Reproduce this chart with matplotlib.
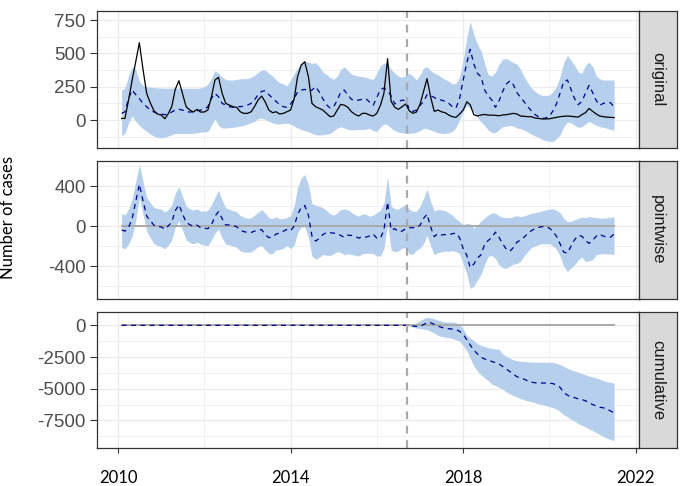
import matplotlib
matplotlib.use("Agg")
import matplotlib.pyplot as plt
import matplotlib.dates as mdates
from matplotlib.ticker import FixedLocator
import numpy as np
import pandas as pd

plt.rcParams["axes.unicode_minus"] = False

# monthly series, Feb 2010 .. Jul 2021 (one row per calendar year)
dates = pd.date_range("2010-02-01", periods=138, freq="MS")
intervention = pd.Timestamp("2016-09-13")

observed = np.array([
    12, 12, 150, 300, 440, 580, 380, 200, 130, 70, 45,
    38, 10, 45, 100, 230, 295, 200, 100, 75, 60, 80, 60,
    60, 75, 170, 300, 320, 200, 125, 112, 100, 95, 62, 50,
    50, 62, 100, 150, 180, 135, 75, 55, 62, 45, 50, 62,
    75, 162, 325, 412, 437, 325, 125, 100, 87, 75, 50, 25,
    30, 75, 117, 112, 95, 62, 42, 30, 50, 50, 37, 30,
    50, 112, 200, 460, 140, 95, 80, 100, 120, 70, 50, 60,
    120, 220, 310, 170, 65, 75, 62, 55, 37, 25, 20, 45,
    75, 137, 115, 40, 30, 38, 42, 37, 37, 35, 32, 38,
    40, 45, 50, 45, 30, 28, 25, 25, 15, 12, 8, 8,
    10, 15, 20, 25, 28, 30, 28, 25, 22, 40, 55, 87,
    65, 45, 30, 25, 22, 20, 18,
], dtype=float)

predicted = np.array([
    50, 62, 162, 225, 190, 160, 125, 100, 75, 60, 50,
    45, 40, 45, 60, 75, 80, 75, 62, 60, 62, 70, 75,
    80, 100, 162, 200, 175, 125, 112, 100, 95, 100, 100, 105,
    112, 125, 150, 190, 215, 220, 190, 165, 140, 115, 100, 95,
    120, 160, 210, 225, 230, 215, 225, 250, 210, 160, 115, 90,
    100, 150, 210, 225, 185, 155, 145, 150, 155, 160, 135, 110,
    170, 230, 240, 220, 180, 120, 135, 150, 145, 85, 65, 75,
    110, 140, 190, 180, 170, 150, 150, 140, 125, 100, 90, 160,
    300, 430, 530, 420, 350, 325, 225, 180, 150, 95, 145, 215,
    270, 295, 265, 205, 170, 137, 100, 70, 40, 25, 12, 15,
    30, 70, 122, 205, 288, 300, 230, 160, 115, 140, 200, 260,
    205, 145, 110, 125, 130, 130, 97,
], dtype=float)

pred_upper = np.array([
    225, 240, 330, 400, 380, 290, 260, 250, 245, 245, 240,
    240, 238, 238, 240, 240, 240, 238, 238, 238, 238, 238, 240,
    250, 270, 310, 370, 350, 320, 305, 300, 300, 305, 310, 310,
    312, 320, 335, 355, 375, 375, 350, 330, 300, 280, 270, 255,
    300, 350, 390, 420, 445, 435, 425, 430, 400, 360, 340, 320,
    305, 330, 380, 400, 370, 345, 335, 330, 325, 320, 310, 305,
    350, 410, 425, 430, 380, 350, 330, 320, 335, 350, 330, 300,
    340, 390, 400, 370, 350, 340, 320, 305, 290, 270, 275, 320,
    450, 620, 740, 640, 570, 520, 425, 340, 330, 360, 420, 455,
    462, 445, 430, 420, 380, 325, 280, 240, 215, 195, 185, 185,
    187, 215, 250, 330, 430, 485, 450, 410, 360, 350, 410, 435,
    400, 330, 310, 300, 300, 300, 300,
], dtype=float)

pred_lower = np.array([
    -115, -100, -20, 30, -10, -40, -65, -85, -105, -120, -130,
    -135, -130, -120, -110, -100, -100, -100, -100, -100, -100, -95, -90,
    -90, -85, -40, 10, -40, -60, -60, -55, -55, -50, -45, -40,
    -30, -20, -10, 10, 15, 5, -10, -20, -30, -30, -25, -25,
    -30, -45, -60, -70, -80, -87, -100, -110, -112, -110, -105, -100,
    -80, -60, -50, -60, -70, -75, -72, -70, -72, -68, -62, -80,
    -85, -50, -30, -35, -60, -80, -90, -95, -100, -100, -98, -90,
    -80, -62, -65, -75, -85, -95, -100, -100, -95, -85, -55, 0,
    60, 110, 90, 60, 20, -15, -40, -75, -95, -95, -70, -50,
    -45, -40, -45, -60, -65, -75, -90, -105, -120, -130, -145, -155,
    -160, -160, -140, -110, -50, -15, -20, -40, -55, -50, -30, -10,
    -25, -40, -50, -55, -62, -70, -75,
], dtype=float)

# cumulative effect, post period only (Oct 2016 .. Jul 2021)
cum_mean_post = np.array([
    -20, -60, -90,
    -60, 60, 220, 200, 80, -60, -160, -230, -270, -300, -340, -470,
    -700, -1150, -1550, -1950, -2250, -2520, -2650, -2750, -2850, -2950, -3050, -3250,
    -3450, -3650, -3850, -4050, -4150, -4250, -4380, -4480, -4530, -4550, -4550, -4550,
    -4560, -4600, -4700, -4900, -5300, -5500, -5650, -5700, -5800, -5850, -5950, -6100,
    -6250, -6350, -6450, -6500, -6600, -6750, -6900,
], dtype=float)

cum_upper_post = np.array([
    30, 70, 200,
    380, 520, 630, 580, 520, 400, 340, 270, 263, 263, 200, 100,
    -300, -800, -1000, -1200, -1450, -1580, -1680, -1760, -1820, -1860, -1900, -2250,
    -2450, -2600, -2720, -2790, -2830, -2850, -2880, -2890, -2900, -2910, -2910, -2915,
    -2920, -2920, -3000, -3100, -3250, -3400, -3500, -3600, -3700, -3800, -3900, -4000,
    -4070, -4150, -4250, -4350, -4450, -4500, -4550,
], dtype=float)

cum_lower_post = np.array([
    -50, -150, -220,
    -260, -300, -340, -480, -600, -800, -880, -930, -970, -1030, -1150, -1250,
    -1600, -2000, -2600, -3200, -3600, -3900, -4150, -4350, -4650, -4750, -4900, -5050,
    -5250, -5400, -5530, -5650, -5780, -5870, -5950, -6030, -6100, -6200, -6250, -6330,
    -6420, -6500, -6600, -6800, -7040, -7200, -7400, -7550, -7750, -7880, -8000, -8150,
    -8300, -8450, -8600, -8750, -8880, -9000, -9100,
], dtype=float)

# derived panels
point_mean = observed - predicted
point_lower = observed - pred_upper
point_upper = observed - pred_lower

n_pre = int((dates <= intervention).sum())
pre_zeros = np.zeros(n_pre)
cum_mean = np.concatenate([pre_zeros, cum_mean_post])
cum_lower = np.concatenate([pre_zeros, cum_lower_post])
cum_upper = np.concatenate([pre_zeros, cum_upper_post])

# ---- styling -------------------------------------------------------------
W, H = 684, 486
BAND = "#B5CFEC"
MEAN = "#00008B"
VLINE = "#A9A9A9"
GRID = "#EBEBEB"
BORDER = "#333333"

fig = plt.figure(figsize=(W / 100, H / 100), dpi=100)


def px_box(x0, x1, y0, y1):
    return [x0 / W, 1 - y1 / H, (x1 - x0) / W, (y1 - y0) / H]


span = dates[-1] - dates[0]
x_lim = (dates[0] - span * 0.05, dates[-1] + span * 0.05)
major_years = [mdates.date2num(pd.Timestamp(year=y, month=1, day=1)) for y in (2010, 2014, 2018, 2022)]
minor_years = [mdates.date2num(pd.Timestamp(year=y, month=1, day=1)) for y in (2012, 2016, 2020)]

panel_left, panel_right, strip_right = 97, 638.7, 677
rows = [(10.7, 148.3), (160.7, 299.0), (311.7, 448.3)]

panels = [
    dict(name="original", ylim=(-212, 820), major=[0, 250, 500, 750],
         minor=[-125, 125, 375, 625]),
    dict(name="pointwise", ylim=(-730, 656), major=[-400, 0, 400],
         minor=[-600, -200, 200, 600]),
    dict(name="cumulative", ylim=(-9692, 1072), major=[-7500, -5000, -2500, 0],
         minor=[-8750, -6250, -3750, -1250]),
]

axes = []
for (y0, y1), spec in zip(rows, panels):
    ax = fig.add_axes(px_box(panel_left, panel_right, y0, y1))
    ax.set_xlim(*x_lim)
    ax.set_ylim(*spec["ylim"])
    ax.xaxis.set_major_locator(FixedLocator(major_years))
    ax.xaxis.set_minor_locator(FixedLocator(minor_years))
    ax.yaxis.set_major_locator(FixedLocator(spec["major"]))
    ax.yaxis.set_minor_locator(FixedLocator(spec["minor"]))
    ax.set_axisbelow(True)
    ax.grid(which="major", color=GRID, linewidth=0.9)
    ax.grid(which="minor", color=GRID, linewidth=0.5)
    for side in ax.spines.values():
        side.set_color(BORDER)
        side.set_linewidth(0.9)
    ax.tick_params(axis="y", which="major", length=5, width=0.8, color=BORDER,
                   labelsize=13.5, labelcolor="#4D4D4D", pad=3)
    ax.tick_params(axis="x", which="major", length=3.7, width=0.8, color=BORDER, pad=12)
    ax.tick_params(which="minor", length=0)
    for label in ax.get_yticklabels():
        label.set_fontfamily("Liberation Sans")
    ax.xaxis.set_major_formatter(mdates.DateFormatter("%Y"))

    strip = fig.add_axes(px_box(panel_right, strip_right, y0, y1))
    strip.set_facecolor("#D9D9D9")
    strip.set_xticks([])
    strip.set_yticks([])
    for side in strip.spines.values():
        side.set_color(BORDER)
        side.set_linewidth(0.9)
    strip.text(0.5, 0.5, spec["name"], rotation=270, ha="center", va="center",
               fontsize=12, color="#1A1A1A", family="Liberation Sans",
               transform=strip.transAxes)
    axes.append(ax)

ax_orig, ax_point, ax_cum = axes

# original
ax_orig.fill_between(dates, pred_lower, pred_upper, color=BAND, linewidth=0)
ax_orig.plot(dates, predicted, color=MEAN, linewidth=0.9, dashes=(4, 3.5))
ax_orig.plot(dates, observed, color="black", linewidth=0.9)

# pointwise
ax_point.fill_between(dates, point_lower, point_upper, color=BAND, linewidth=0)
ax_point.plot(dates, np.zeros(len(dates)), color=VLINE, linewidth=1.4)
ax_point.plot(dates, point_mean, color=MEAN, linewidth=0.9, dashes=(4, 3.5))

# cumulative
ax_cum.fill_between(dates, cum_lower, cum_upper, color=BAND, linewidth=0)
ax_cum.plot(dates, np.zeros(len(dates)), color=VLINE, linewidth=1.4)
ax_cum.plot(dates, cum_mean, color=MEAN, linewidth=0.9, dashes=(4, 3.5))

for ax in axes:
    ax.axvline(intervention, color=VLINE, linewidth=1.6, dashes=(3.5, 3))

for ax in (ax_orig, ax_point):
    ax.tick_params(axis="x", which="major", length=0, labelbottom=False)

for label in ax_cum.get_xticklabels():
    label.set_fontfamily("Lato")
    label.set_fontsize(12)
    label.set_color("black")

fig.text(8.3 / W, 1 - 217 / H, "Number of cases", rotation=90, ha="center",
         va="center", fontsize=12, family="Lato", color="black")

fig.savefig("out.png", dpi=100)
